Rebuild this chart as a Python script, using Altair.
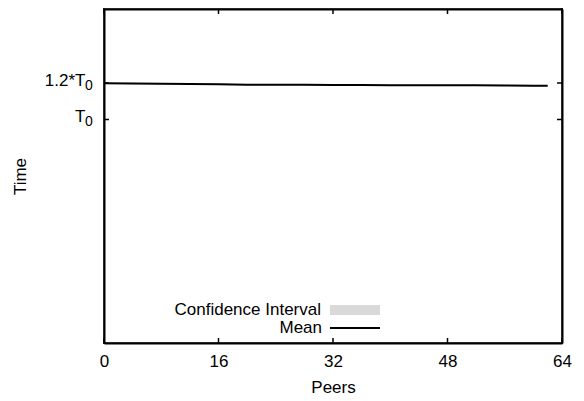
import altair as alt
import pandas as pd

# ---- data ----
peers = [0, 4, 8, 12, 16, 20, 24, 28, 32, 36, 40, 44, 48, 52, 56, 60, 62]
mean_time = [1.198, 1.197, 1.196, 1.195, 1.193, 1.191, 1.190, 1.190, 1.189,
             1.189, 1.188, 1.188, 1.187, 1.187, 1.186, 1.185, 1.185]
ci_low = [1.194, 1.193, 1.192, 1.191, 1.189, 1.187, 1.186, 1.186, 1.185,
          1.185, 1.184, 1.184, 1.183, 1.183, 1.182, 1.181, 1.181]
ci_high = [1.202, 1.201, 1.200, 1.199, 1.197, 1.195, 1.194, 1.194, 1.193,
           1.193, 1.192, 1.192, 1.191, 1.191, 1.190, 1.189, 1.189]
x_ticks = [0, 16, 32, 48, 64]
y_ticks = [1.0, 1.2]
y_tick_labels = ["T", "1.2*T"]
y_tick_subscripts = ["0", "0"]
series_names = ["Confidence Interval", "Mean"]
x_domain = [0, 64]
y_domain = [-0.2247, 1.6055]

df = pd.DataFrame({
    "peers": peers, "time": mean_time, "lo": ci_low, "hi": ci_high,
    "band": series_names[0], "series": series_names[1],
})
xt = pd.DataFrame({"peers": x_ticks})
yt = pd.DataFrame({"time": y_ticks, "sub": y_tick_subscripts})
x_edges = pd.DataFrame({"peers": x_domain})
y_edges = pd.DataFrame({"time": y_domain})

W, H = 458, 334
FONT = "Liberation Sans"
FS = 17

xs = alt.Scale(domain=x_domain, nice=False, zero=False)
ys = alt.Scale(domain=y_domain, nice=False, zero=False)

label_expr = " : ".join(
    f"abs(datum.value - {v}) < 0.001 ? '{t}'" for v, t in zip(y_ticks, y_tick_labels)
) + " : ''"

x_axis = alt.Axis(values=x_ticks, title="Peers", domain=True, domainColor="black",
                  domainWidth=2, ticks=False, grid=False, labelFlush=False,
                  labelFont=FONT, labelFontSize=FS, labelColor="black", labelPadding=10,
                  titleFont=FONT, titleFontSize=FS, titleFontWeight="normal", titleColor="black",
                  titleX=W / 2, titleY=49, titleBaseline="alphabetic", titleAlign="center")
y_axis = alt.Axis(values=y_ticks, title="Time", domain=True, domainColor="black",
                  domainWidth=2, ticks=False, grid=False,
                  labelExpr=label_expr, labelOffset={"expr": "-3"}, labelFlush=False,
                  labelFont=FONT, labelFontSize=FS, labelColor="black", labelPadding=19,
                  titleFont=FONT, titleFontSize=FS, titleFontWeight="normal", titleColor="black",
                  titleX=-84, titleY=H / 2, titleBaseline="middle", titleAlign="center",
                  titleAngle=-90)

X = alt.X("peers:Q", scale=xs, axis=x_axis)
Y = alt.Y("time:Q", scale=ys, axis=y_axis)

legend_common = dict(title=None, orient="none", padding=0,
                     labelAlign="right", labelOffset={"expr": "-59"},
                     labelFont=FONT, labelFontSize=FS, labelColor="black")

band = alt.Chart(df).mark_area(opacity=1).encode(
    x=X,
    y=alt.Y("lo:Q", scale=ys, axis=y_axis),
    y2="hi:Q",
    fill=alt.Fill("band:N", scale=alt.Scale(domain=[series_names[0]], range=["#d9d9d9"]),
                  legend=alt.Legend(legendX=226, legendY=276,
                                    symbolType="M-1,-0.2H1V0.2H-1Z",
                                    symbolSize=2500, symbolStrokeWidth=0,
                                    symbolOpacity=1, symbolFillColor="#d9d9d9",
                                    **legend_common)),
)

line = alt.Chart(df).mark_line(strokeWidth=2).encode(
    x=X, y=Y,
    stroke=alt.Stroke("series:N", scale=alt.Scale(domain=[series_names[1]], range=["black"]),
                      legend=alt.Legend(legendX=225, legendY=293,
                                        symbolType="stroke", symbolSize=2500,
                                        symbolStrokeWidth=2, symbolOpacity=1,
                                        symbolStrokeColor="black", **legend_common)),
)

tick_len = 5
xt_bottom = alt.Chart(xt).mark_rule(color="black", strokeWidth=1.5).encode(
    x=X, y=alt.value(H), y2=alt.value(H - tick_len))
xt_top = alt.Chart(xt).mark_rule(color="black", strokeWidth=1.5).encode(
    x=X, y=alt.value(0), y2=alt.value(tick_len))
yt_left = alt.Chart(yt).mark_rule(color="black", strokeWidth=1.5).encode(
    y=Y, x=alt.value(0), x2=alt.value(tick_len))
yt_right = alt.Chart(yt).mark_rule(color="black", strokeWidth=1.5).encode(
    y=Y, x=alt.value(W), x2=alt.value(W - tick_len))
yt_sub = alt.Chart(yt).mark_text(align="left", baseline="middle", font=FONT,
                                 fontSize=14, color="black", dy=3).encode(
    y=Y, x=alt.value(-19), text="sub:N")

# plot frame (gnuplot-style border) drawn at the scale domain edges
frame_v = alt.Chart(x_edges).mark_tick(color="black", thickness=2, size=H + 2,
                                       orient="vertical").encode(
    x=X, y=alt.value(H / 2))
frame_h = alt.Chart(y_edges).mark_tick(color="black", thickness=2, size=W + 2,
                                       orient="horizontal").encode(
    y=Y, x=alt.value(W / 2))

main = alt.layer(band, line, xt_bottom, xt_top, yt_left, yt_right, yt_sub,
                 frame_v, frame_h)

# mirrored top / right axes: only their domain lines, closing the border
mirror_axis_opts = dict(labels=False, ticks=False, grid=False, title=None,
                        domain=True, domainColor="black", domainWidth=2)
mirror = alt.Chart(df).mark_line(opacity=0).encode(
    x=alt.X("peers:Q", scale=xs, axis=alt.Axis(orient="top", **mirror_axis_opts)),
    y=alt.Y("time:Q", scale=ys, axis=alt.Axis(orient="right", **mirror_axis_opts)),
)

chart = alt.layer(main, mirror).resolve_scale(x="independent", y="independent").properties(
    width=W, height=H,
    autosize=alt.AutoSizeParams(type="none"),
    padding={"left": 96, "top": 1, "right": 14, "bottom": 58},
    background="white",
).configure_view(stroke=None)

chart.save("out.html", embed_options={"renderer": "svg", "actions": False})
